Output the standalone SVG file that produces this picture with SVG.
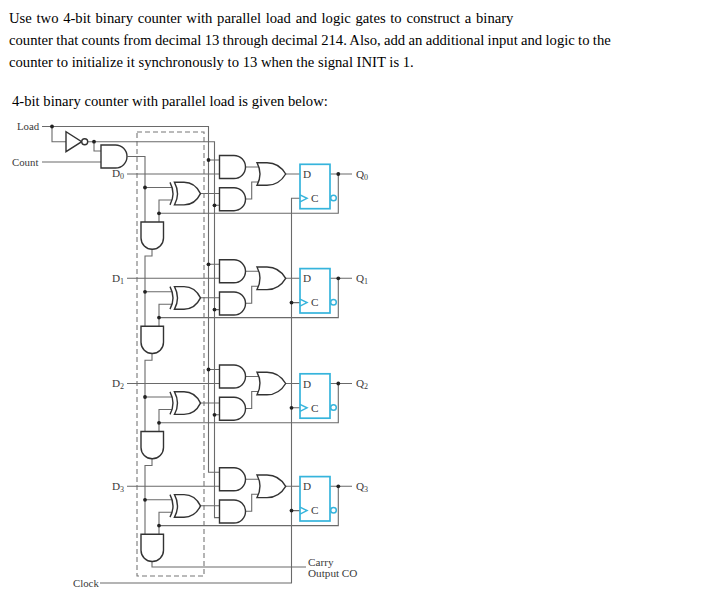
<svg xmlns="http://www.w3.org/2000/svg" width="714" height="596" viewBox="0 0 714 596">
<style>
text{font-family:"Liberation Serif","Times New Roman",serif;fill:#000}
.t{font-size:14.67px}
.l{font-size:10.8px;fill:#3a3a3a}
.c{font-size:11.2px;fill:#3a3a3a}
.s{font-size:8px;fill:#3a3a3a}
.w{fill:none;stroke:#6a6a6a;stroke-width:1.1}
.g{fill:#fff;stroke:#333;stroke-width:1.4}
.a{fill:none;stroke:#333;stroke-width:1.4}
.f{fill:#fff;stroke:#36b4dc;stroke-width:1.7}
.v{fill:none;stroke:#36b4dc;stroke-width:1.5}
.d{fill:#222}
.b{fill:none;stroke:#777;stroke-width:1.1;stroke-dasharray:5 3}
</style>
<defs>
<path id="and" d="M0,0H14.5A11.5,11.5 0 0 1 14.5,23H0Z"/>
<path id="or" d="M0,0H10Q22,0 28.7,11.3Q22,22.6 10,22.6H0Q6,11.3 0,0Z"/>
<path id="xorb" d="M4.5,0H14Q25,0 30.5,11.3Q25,22.6 14,22.6H4.5Q10.5,11.3 4.5,0Z"/>
<path id="xora" d="M0,0Q6,11.3 0,22.6"/>
<path id="andv" d="M0,0H22.5V16A11.25,11.25 0 0 1 0,16Z"/>
<g id="ffb"><rect width="30" height="44.4"/></g>
<circle id="dot" r="1.9"/>
</defs>
<rect width="714" height="596" fill="#fff"/>
<text class="t" x="9" y="22.5" word-spacing="1.03">Use two 4-bit binary counter with parallel load and logic gates to construct a binary</text>
<text class="t" x="9" y="44.5" word-spacing="-0.35">counter that counts from decimal 13 through decimal 214. Also, add an additional input and logic to the</text>
<text class="t" x="9" y="66.5">counter to initialize it synchronously to 13 when the signal INIT is 1.</text>
<text class="t" x="12" y="105.5">4-bit binary counter with parallel load is given below:</text>
<rect class="b" x="137" y="132" width="67" height="444"/>
<g id="connectors">
<path class="w" d="M42,126.5H208.5V472.3H219.5M52,126.5V141.7H66M88,141.7H214.5V517.6H219.5M94,141.7V151H101M42,162H101M127.5,156.5H145V222M152,249.3V256H145V326.3M152,353.6V360.3H145V431.5M152,458.8V465.5H145V534.3M152,561.6V567H306M100,583H291.5V198.3H300"/>
<path class="w" id="stage0" d="M127,174H219.5M246,167H259M246,199H251.7V182H259M285.7,174H300M200.5,193.5H219.5M145,187.5H172M159,222V200H172M208.5,160H219.5M214.5,205.3H219.5M330,174H352M338.3,174V213.3H159"/>
<path class="w" id="stage1" d="M127,278.3H219.5M246,271.3H259M246,303.3H251.7V286.3H259M285.7,278.3H300M200.5,297.8H219.5M145,291.8H172M159,326.3V304.3H172M208.5,264.3H219.5M214.5,309.6H219.5M330,278.3H352M338.3,278.3V317.6H159M291.5,302.6H300"/>
<path class="w" id="stage2" d="M127,383.5H219.5M246,376.5H259M246,408.5H251.7V391.5H259M285.7,383.5H300M200.5,403H219.5M145,397H172M159,431.5V409.5H172M208.5,369.5H219.5M214.5,414.8H219.5M330,383.5H352M338.3,383.5V422.8H159M291.5,407.8H300"/>
<path class="w" id="stage3" d="M127,486.3H219.5M246,479.3H259M246,511.3H251.7V494.3H259M285.7,486.3H300M200.5,505.8H219.5M145,499.8H172M159,534.3V512.3H172M330,486.3H352M338.3,486.3V525.6H159M291.5,510.6H300"/>
<g class="d">
<use href="#dot" x="52" y="126.5"/><use href="#dot" x="94" y="141.7"/>
<use href="#dot" x="208.5" y="160"/><use href="#dot" x="214.5" y="205.3"/><use href="#dot" x="145" y="187.5"/><use href="#dot" x="159" y="213.3"/><use href="#dot" x="338.3" y="174"/>
<use href="#dot" x="208.5" y="264.3"/><use href="#dot" x="214.5" y="309.6"/><use href="#dot" x="145" y="291.8"/><use href="#dot" x="159" y="317.6"/><use href="#dot" x="338.3" y="278.3"/><use href="#dot" x="291.5" y="302.6"/>
<use href="#dot" x="208.5" y="369.5"/><use href="#dot" x="214.5" y="414.8"/><use href="#dot" x="145" y="397"/><use href="#dot" x="159" y="422.8"/><use href="#dot" x="338.3" y="383.5"/><use href="#dot" x="291.5" y="407.8"/>
<use href="#dot" x="145" y="499.8"/><use href="#dot" x="159" y="525.6"/><use href="#dot" x="338.3" y="486.3"/><use href="#dot" x="291.5" y="510.6"/>
</g>
</g>
<g id="inverter"><path class="g" d="M66,131.7V151.7L81.7,141.7Z"/><circle class="g" cx="84.7" cy="141.7" r="3"/></g>
<g id="and-count"><use href="#and" class="g" x="101" y="145"/></g>
<g id="stage-0-gates"><use href="#and" class="g" x="219.5" y="155.5"/><use href="#and" class="g" x="219.5" y="187.7"/><use href="#or" class="g" x="257" y="162.7"/><use href="#xorb" class="g" x="170" y="182.3"/><use href="#xora" class="a" x="170" y="182.3"/><use href="#andv" class="g" x="141" y="222"/></g>
<g id="stage-1-gates"><use href="#and" class="g" x="219.5" y="259.8"/><use href="#and" class="g" x="219.5" y="292"/><use href="#or" class="g" x="257" y="267"/><use href="#xorb" class="g" x="170" y="286.6"/><use href="#xora" class="a" x="170" y="286.6"/><use href="#andv" class="g" x="141" y="326.3"/></g>
<g id="stage-2-gates"><use href="#and" class="g" x="219.5" y="365"/><use href="#and" class="g" x="219.5" y="397.2"/><use href="#or" class="g" x="257" y="372.2"/><use href="#xorb" class="g" x="170" y="391.8"/><use href="#xora" class="a" x="170" y="391.8"/><use href="#andv" class="g" x="141" y="431.5"/></g>
<g id="stage-3-gates"><use href="#and" class="g" x="219.5" y="467.8"/><use href="#and" class="g" x="219.5" y="500"/><use href="#or" class="g" x="257" y="475"/><use href="#xorb" class="g" x="170" y="494.6"/><use href="#xora" class="a" x="170" y="494.6"/><use href="#andv" class="g" x="141" y="534.3"/></g>
<g id="ff0"><use href="#ffb" class="f" x="300" y="164.3"/><path class="v" d="M300,194.8L307,198.3L300,201.8"/><circle class="v" cx="333.5" cy="198" r="2.8"/><text class="c" x="303" y="178">D</text><text class="c" x="311" y="202">C</text></g>
<g id="ff1"><use href="#ffb" class="f" x="300" y="268.6"/><path class="v" d="M300,299.1L307,302.6L300,306.1"/><circle class="v" cx="333.5" cy="302.3" r="2.8"/><text class="c" x="303" y="282.3">D</text><text class="c" x="311" y="306.3">C</text></g>
<g id="ff2"><use href="#ffb" class="f" x="300" y="373.8"/><path class="v" d="M300,404.3L307,407.8L300,411.3"/><circle class="v" cx="333.5" cy="407.5" r="2.8"/><text class="c" x="303" y="387.5">D</text><text class="c" x="311" y="411.5">C</text></g>
<g id="ff3"><use href="#ffb" class="f" x="300" y="476.6"/><path class="v" d="M300,507.1L307,510.6L300,514.1"/><circle class="v" cx="333.5" cy="510.3" r="2.8"/><text class="c" x="303" y="490.3">D</text><text class="c" x="311" y="514.3">C</text></g>
<g id="labels">
<text class="l" x="17" y="130">Load</text><text class="l" x="12" y="166">Count</text><text class="l" x="73" y="587">Clock</text>
<text class="c" x="112" y="177">D<tspan class="s" dy="2">0</tspan></text>
<text class="c" x="112" y="281.5">D<tspan class="s" dy="2">1</tspan></text>
<text class="c" x="112" y="386.5">D<tspan class="s" dy="2">2</tspan></text>
<text class="c" x="112" y="489.5">D<tspan class="s" dy="2">3</tspan></text>
<text class="c" x="356" y="177.5">Q<tspan class="s" dy="2">0</tspan></text>
<text class="c" x="356" y="281.8">Q<tspan class="s" dy="2">1</tspan></text>
<text class="c" x="356" y="387">Q<tspan class="s" dy="2">2</tspan></text>
<text class="c" x="356" y="489.8">Q<tspan class="s" dy="2">3</tspan></text>
<text class="c" x="308" y="565.5">Carry</text><text class="c" x="308" y="576.5">Output CO</text>
</g>
</svg>
